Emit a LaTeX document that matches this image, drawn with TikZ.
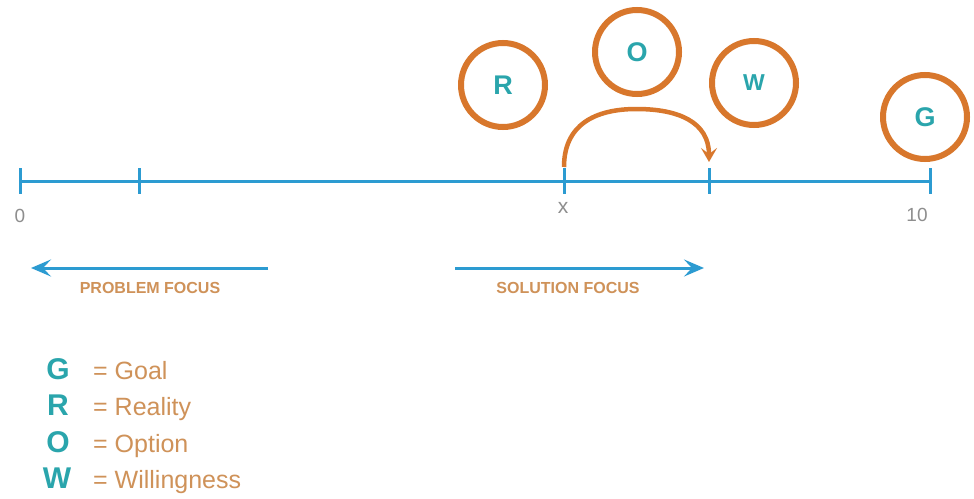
\documentclass[tikz,border=0pt]{standalone}
\usepackage{fontspec}
\setmainfont{Liberation Sans}
\usetikzlibrary{arrows.meta}
\definecolor{lineblue}{HTML}{2C9BD1}
\definecolor{teal}{HTML}{2AA5AC}
\definecolor{ringorange}{HTML}{D8772C}
\definecolor{tan}{HTML}{CF9259}
\definecolor{numgray}{HTML}{8E8E8E}
\tikzset{
  axis/.style={draw=lineblue, line width=3pt},
  tickmark/.style={draw=lineblue, line width=3pt},
  ring/.style={circle, draw=ringorange, line width=6pt, minimum size=84pt, inner sep=0pt,
     text=teal, font=\bfseries\fontsize{27}{27}\selectfont},
  numlbl/.style={text=numgray, font=\fontsize{19}{19}\selectfont, inner sep=0pt},
  focusarrow/.style={draw=lineblue, line width=3pt, -{Stealth[length=20pt,width=17pt,inset=8pt]}},
  focuslbl/.style={text=tan, font=\bfseries\fontsize{16}{16}\selectfont, inner sep=0pt},
  jump/.style={draw=ringorange, line width=4.5pt, -{Stealth[length=14pt,width=16pt,inset=6pt]}},
  legletter/.style={text=teal, font=\bfseries\fontsize{30}{30}\selectfont, inner sep=0pt, anchor=base},
  legtext/.style={text=tan, font=\fontsize{25}{25}\selectfont, inner sep=0pt, anchor=base west},
}
\begin{document}
\begin{tikzpicture}[x=1pt,y=-1pt]
\useasboundingbox[fill=white] (0,0) rectangle (974,498);
% axis
\coordinate (t0) at (20,181);
\coordinate (t1) at (139,181);
\coordinate (tx) at (564,181);
\coordinate (t7) at (709,181);
\coordinate (t10) at (930,181);
\draw[axis] (t0) -- (t10);
\foreach \t in {t0,t1,tx,t7,t10}{
  \draw[tickmark] ([yshift=13pt]\t) -- ([yshift=-13pt]\t);
}
\node[numlbl] (n0) at (20,216) {0};
\node[numlbl, font=\fontsize{21}{21}\selectfont] (nx) at (563,208) {x};
\node[numlbl] (n10) at (917,215) {10};
% rings
\node[ring] (R) at (503,85) {R};
\node[ring] (O) at (637,52) {O};
\node[ring, font=\bfseries\fontsize{23}{23}\selectfont] (W) at (754,83) {W};
\node[ring] (G) at (925,117) {G};
% jump arc
\coordinate (arcS) at (564,167);
\coordinate (arcE) at (709,162);
\draw[jump] (arcS) .. controls +(0,-42) and +(-42,0) .. (636.5,109) .. controls +(42,0) and +(0,-40) .. (arcE);
% focus arrows
\coordinate (pA) at (268,268);
\coordinate (pB) at (31,268);
\coordinate (sA) at (455,268);
\coordinate (sB) at (704,268);
\draw[focusarrow] (pA) -- (pB);
\draw[focusarrow] (sA) -- (sB);
\node[focuslbl] (pl) at (150,288) {PROBLEM FOCUS};
\node[focuslbl] (sl) at (568,288) {SOLUTION FOCUS};
% legend
\node[legletter] (lG) at (58,379) {G};
\node[legletter] (lR) at (58,415.5) {R};
\node[legletter] (lO) at (58,452) {O};
\node[legletter] (lW) at (57,488.5) {W};
\node[legtext] (tG) at (93,379) {= Goal};
\node[legtext] (tR) at (93,415.5) {= Reality};
\node[legtext] (tO) at (93,452) {= Option};
\node[legtext] (tW) at (93,488.5) {= Willingness};
\end{tikzpicture}
\end{document}
